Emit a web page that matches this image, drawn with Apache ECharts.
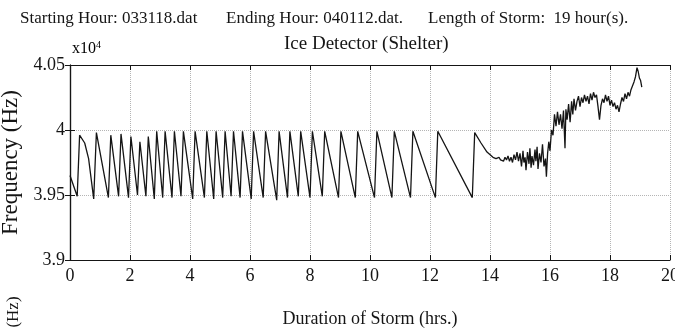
<!DOCTYPE html>
<html>
<head>
<meta charset="utf-8">
<title>Ice Detector (Shelter)</title>
<script src="https://cdn.jsdelivr.net/npm/echarts@6/dist/echarts.min.js"></script>
<style>
  html, body { margin: 0; padding: 0; background: #fff; }
  #chart { width: 675px; height: 333px; }
</style>
</head>
<body>
<div id="chart"></div>
<script>
// [hours, frequency in units of 1e4 Hz]
// sawtooth part: ice builds up, detector de-ices, frequency jumps back
const sawPoints = [
  [0, 3.965], [0.24, 3.949], [0.32, 3.996], [0.49, 3.990], [0.62, 3.978],
  [0.79, 3.947], [0.88, 3.998], [1.28, 3.948], [1.36, 3.996], [1.62, 3.949],
  [1.70, 3.997], [1.95, 3.948], [2.03, 3.995], [2.25, 3.950], [2.33, 3.991],
  [2.53, 3.949], [2.61, 3.995], [2.81, 3.947], [2.89, 3.999], [3.09, 3.948],
  [3.17, 3.999], [3.40, 3.948], [3.48, 3.999], [3.70, 3.949], [3.78, 3.999],
  [4.09, 3.947], [4.17, 3.999], [4.48, 3.948], [4.56, 3.999], [4.79, 3.947],
  [4.87, 3.999], [5.09, 3.948], [5.17, 3.999], [5.37, 3.949], [5.45, 3.999],
  [5.67, 3.948], [5.75, 3.999], [6.04, 3.947], [6.12, 3.999], [6.44, 3.948],
  [6.52, 3.999], [6.89, 3.946], [6.97, 3.999], [7.25, 3.948], [7.33, 3.999],
  [7.61, 3.949], [7.69, 3.999], [8.00, 3.948], [8.08, 3.999], [8.41, 3.949],
  [8.49, 3.999], [8.95, 3.948], [9.03, 3.999], [9.51, 3.948], [9.59, 3.999],
  [10.15, 3.948], [10.23, 3.999], [10.73, 3.948], [10.81, 3.999], [11.35, 3.948],
  [11.43, 3.999], [12.18, 3.948], [12.26, 3.999], [13.41, 3.948]
];

// noisy part after the last de-icing cycle
const noisyPoints = [
  [13.49, 3.998], [13.7, 3.990], [13.9, 3.983], [14.1, 3.979], [14.2, 3.978],
  [14.25, 3.977], [14.3, 3.979], [14.35, 3.977], [14.4, 3.978], [14.45, 3.976],
  [14.5, 3.979], [14.55, 3.977], [14.6, 3.980], [14.65, 3.976], [14.7, 3.979],
  [14.75, 3.975], [14.8, 3.981], [14.85, 3.977], [14.9, 3.983], [14.95, 3.976],
  [15.0, 3.982], [15.05, 3.972], [15.1, 3.984], [15.13, 3.975], [15.17, 3.979],
  [15.2, 3.969], [15.25, 3.983], [15.3, 3.974], [15.33, 3.986], [15.37, 3.971],
  [15.4, 3.980], [15.45, 3.973], [15.5, 3.985], [15.53, 3.976], [15.57, 3.987],
  [15.6, 3.970], [15.65, 3.982], [15.7, 3.975], [15.75, 3.989], [15.8, 3.972],
  [15.85, 3.978], [15.88, 3.964], [15.92, 3.982], [15.96, 3.991], [16.0, 3.984],
  [16.05, 4.000], [16.1, 3.996], [16.15, 4.012], [16.2, 4.003], [16.25, 4.014],
  [16.3, 4.004], [16.35, 4.012], [16.4, 4.001], [16.45, 4.015], [16.5, 3.986],
  [16.53, 4.016], [16.57, 4.008], [16.62, 4.020], [16.67, 4.006], [16.72, 4.022],
  [16.76, 4.012], [16.8, 4.024], [16.85, 4.015], [16.9, 4.022], [16.95, 4.026],
  [17.0, 4.018], [17.05, 4.025], [17.1, 4.021], [17.15, 4.027], [17.2, 4.022],
  [17.25, 4.026], [17.3, 4.020], [17.35, 4.028], [17.4, 4.023], [17.45, 4.029],
  [17.5, 4.025], [17.55, 4.027], [17.6, 4.018], [17.65, 4.008], [17.7, 4.019],
  [17.75, 4.024], [17.8, 4.021], [17.85, 4.027], [17.9, 4.022], [17.95, 4.026],
  [18.0, 4.019], [18.05, 4.023], [18.1, 4.018], [18.15, 4.021], [18.2, 4.016],
  [18.25, 4.019], [18.3, 4.014], [18.35, 4.020], [18.4, 4.025], [18.45, 4.022],
  [18.5, 4.028], [18.55, 4.024], [18.6, 4.029], [18.65, 4.026], [18.7, 4.031],
  [18.75, 4.030], [18.8, 4.037], [18.85, 4.041], [18.9, 4.048], [18.94, 4.045],
  [18.98, 4.040], [19.02, 4.038], [19.06, 4.033]
];

const serif = '"Liberation Serif", "DejaVu Serif", serif';
const ink = '#151515';

const chart = echarts.init(document.getElementById('chart'));

const innerTick = { show: true, inside: true, length: 5, lineStyle: { color: ink } };
const frame = { show: true, lineStyle: { color: ink, width: 1.2 } };
const dotted = { show: true, lineStyle: { color: '#b5b5b5', type: 'dotted', width: 1 } };

const option = {
  animation: false,
  backgroundColor: '#fff',
  grid: { left: 70, right: 5, top: 65, bottom: 73, containLabel: false, outerBoundsMode: 'none' },
  graphic: [
    { type: 'text', left: 20, top: 10, style: { text: 'Starting Hour: 033118.dat', font: '17px ' + serif, fill: ink } },
    { type: 'text', left: 226, top: 10, style: { text: 'Ending Hour: 040112.dat.', font: '17px ' + serif, fill: ink } },
    { type: 'text', left: 428, top: 10, style: { text: 'Length of Storm:  19 hour(s).', font: '17px ' + serif, fill: ink } },
    { type: 'text', left: 284, top: 35, style: { text: 'Ice Detector (Shelter)', font: '19px ' + serif, fill: ink } },
    {
      type: 'text', left: 72, top: 40,
      style: {
        text: '{b|x10}{s|4}',
        rich: {
          b: { fontFamily: serif, fontSize: 16, color: ink },
          s: { fontFamily: serif, fontSize: 10, color: ink, verticalAlign: 'top', padding: [0, 0, 8, 0] }
        }
      }
    },
    {
      type: 'text', x: 14, y: 312, rotation: Math.PI / 2,
      style: { text: '(Hz)', font: '17px ' + serif, fill: ink, align: 'center', verticalAlign: 'middle' }
    }
  ],
  xAxis: [
    {
      type: 'value', position: 'bottom', min: 0, max: 20, interval: 2,
      name: 'Duration of Storm (hrs.)', nameLocation: 'middle', nameGap: 50,
      nameTextStyle: { fontFamily: serif, fontSize: 18, color: ink },
      axisLine: frame, axisTick: innerTick, splitLine: dotted,
      axisLabel: { fontFamily: serif, fontSize: 18, color: ink, margin: 7 }
    },
    {
      type: 'value', position: 'top', min: 0, max: 20, interval: 2,
      axisLine: frame, axisTick: innerTick, splitLine: { show: false }, axisLabel: { show: false }
    }
  ],
  yAxis: [
    {
      type: 'value', position: 'left', min: 3.9, max: 4.05, interval: 0.05,
      name: 'Frequency (Hz)', nameLocation: 'middle', nameRotate: 90, nameGap: 42,
      nameTextStyle: { fontFamily: serif, fontSize: 23, color: ink },
      axisLine: frame, axisTick: innerTick, splitLine: dotted,
      axisLabel: { fontFamily: serif, fontSize: 18, color: ink, margin: 5 }
    },
    {
      type: 'value', position: 'right', min: 3.9, max: 4.05, interval: 0.05,
      axisLine: frame, axisTick: innerTick, splitLine: { show: false }, axisLabel: { show: false }
    }
  ],
  series: [
    {
      type: 'line',
      data: sawPoints.concat(noisyPoints),
      showSymbol: false,
      lineStyle: { color: ink, width: 1.3 }
    }
  ]
};

chart.setOption(option);
</script>
</body>
</html>
